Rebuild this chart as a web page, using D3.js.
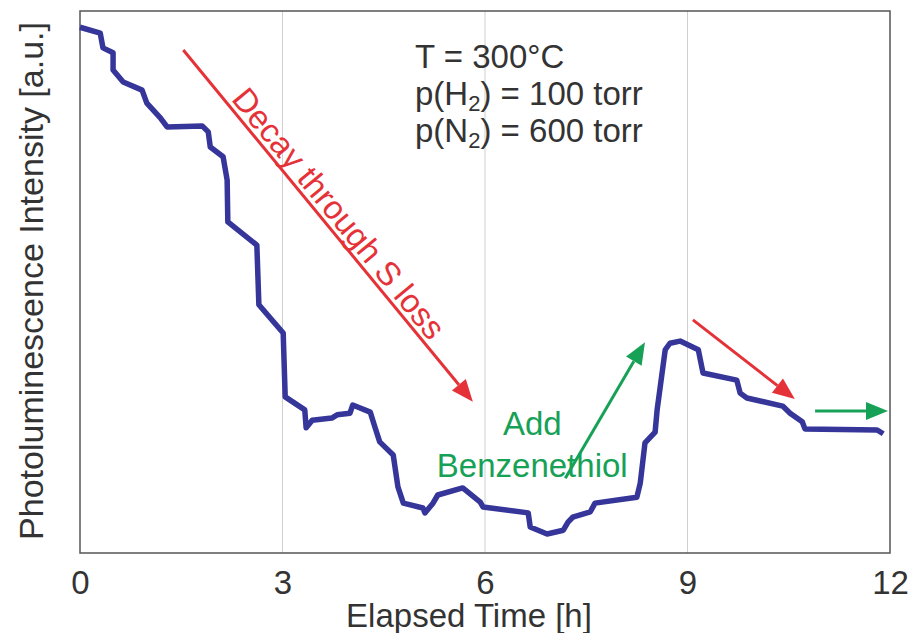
<!DOCTYPE html>
<html>
<head>
<meta charset="utf-8">
<script src="https://cdn.jsdelivr.net/npm/d3@7"></script>
<style>
  body { margin: 0; background: #fff; }
  svg { display: block; font-family: "Liberation Sans", Arial, sans-serif; }
</style>
</head>
<body>
<div id="chart"></div>
<script>
// elapsed time [h] and PL intensity [a.u., 0-100 of plot height]
var hours = [0, 0.30, 0.34, 0.49, 0.49, 0.64, 0.92, 0.99, 1.19, 1.29, 1.81, 1.90, 1.93, 2.12, 2.18, 2.19,
    2.62, 2.65, 3.01, 3.04, 3.33, 3.35, 3.44, 3.73, 3.81, 4.00, 4.04, 4.30, 4.37, 4.44, 4.64, 4.71,
    4.79, 5.08, 5.11, 5.23, 5.30, 5.67, 5.93, 5.97, 6.64, 6.67, 6.92, 7.16, 7.23, 7.30, 7.56, 7.63,
    8.25, 8.30, 8.37, 8.52, 8.55, 8.67, 8.74, 8.89, 9.16, 9.23, 9.73, 9.78, 9.88, 10.41, 10.52,
    10.70, 10.74, 11.81, 11.90];
var intensity = [97.0, 95.9, 93.2, 92.3, 89.1, 86.9, 85.4, 83.0, 80.3, 78.6, 78.8, 77.7, 74.9, 73.1, 68.8, 61.1,
    56.8, 45.8, 40.6, 28.8, 26.4, 23.1, 24.5, 24.9, 25.5, 25.8, 27.3, 26.0, 23.2, 20.5, 18.1, 12.2,
    9.2, 8.3, 7.4, 9.2, 10.7, 12.0, 9.4, 8.5, 7.4, 4.8, 3.5, 4.2, 5.7, 6.6, 7.6, 9.2,
    10.3, 12.9, 20.3, 22.3, 26.4, 37.5, 38.7, 39.1, 37.5, 33.2, 31.9, 29.5, 28.6, 27.1, 25.8,
    24.2, 22.9, 22.7, 22.0];

var xTicks = [0, 3, 6, 9, 12];
var gridHours = [3, 6, 9];

// arrows: [h0, v0, h1, v1, colour]
var arrows = [
    [1.53, 92.8, 5.82, 27.9, "#e53238"],
    [7.19, 13.8, 8.37, 38.9, "#17a157"],
    [9.08, 43.0, 10.59, 28.4, "#e53238"],
    [10.89, 26.2, 11.97, 26.2, "#17a157"]
];

function drawChart() {
    var width = 919, height = 633;
    var plotLeft = 80, plotRight = 890, plotTop = 11, plotBottom = 553;

    var x = d3.scaleLinear().domain([0, 12]).range([plotLeft, plotRight]);
    var y = d3.scaleLinear().domain([0, 100]).range([plotBottom, plotTop]);

    var svg = d3.select("#chart").append("svg")
        .attr("width", width)
        .attr("height", height);

    // grid lines
    svg.selectAll("line.grid")
        .data(gridHours)
        .enter()
        .append("line")
        .attr("class", "grid")
        .attr("x1", function (d) { return x(d); })
        .attr("x2", function (d) { return x(d); })
        .attr("y1", plotTop)
        .attr("y2", plotBottom)
        .attr("stroke", "#cfcfcf")
        .attr("stroke-width", 1);

    // frame
    svg.append("rect")
        .attr("x", plotLeft)
        .attr("y", plotTop)
        .attr("width", plotRight - plotLeft)
        .attr("height", plotBottom - plotTop)
        .attr("fill", "none")
        .attr("stroke", "#555")
        .attr("stroke-width", 1.5);

    // x axis labels
    var xAxis = svg.append("g")
        .attr("transform", "translate(0," + plotBottom + ")")
        .call(d3.axisBottom(x).tickValues(xTicks).tickSize(0).tickFormat(d3.format("d")));
    xAxis.select(".domain").remove();
    xAxis.selectAll("text")
        .attr("y", 41)
        .attr("dy", null)
        .attr("fill", "#333")
        .style("font-size", "33px")
        .style("font-family", "'Liberation Sans', Arial, sans-serif");

    svg.append("text")
        .attr("x", 469)
        .attr("y", 627)
        .attr("text-anchor", "middle")
        .attr("fill", "#333")
        .style("font-size", "33px")
        .text("Elapsed Time [h]");

    svg.append("text")
        .attr("transform", "translate(43,281) rotate(-90)")
        .attr("text-anchor", "middle")
        .attr("fill", "#333")
        .style("font-size", "34px")
        .text("Photoluminescence Intensity [a.u.]");

    // data line
    var line = d3.line()
        .x(function (d) { return x(d[0]); })
        .y(function (d) { return y(d[1]); });

    svg.append("path")
        .datum(d3.zip(hours, intensity))
        .attr("d", line)
        .attr("fill", "none")
        .attr("stroke", "#35359a")
        .attr("stroke-width", 5.5)
        .attr("stroke-linejoin", "round");

    // arrows
    arrows.forEach(function (a) {
        var x0 = x(a[0]), y0 = y(a[1]), x1 = x(a[2]), y1 = y(a[3]);
        var ang = Math.atan2(y1 - y0, x1 - x0);
        var headLen = 22, headW = 9;
        var bx = x1 - headLen * Math.cos(ang), by = y1 - headLen * Math.sin(ang);
        svg.append("line")
            .attr("x1", x0).attr("y1", y0)
            .attr("x2", bx).attr("y2", by)
            .attr("stroke", a[4])
            .attr("stroke-width", 3);
        var px = -Math.sin(ang) * headW, py = Math.cos(ang) * headW;
        svg.append("path")
            .attr("d", "M" + x1 + "," + y1 + "L" + (bx + px) + "," + (by + py) + "L" + (bx - px) + "," + (by - py) + "Z")
            .attr("fill", a[4]);
    });

    // decay label along the first arrow
    var a0 = arrows[0];
    var ax0 = x(a0[0]), ay0 = y(a0[1]), ax1 = x(a0[2]), ay1 = y(a0[3]);
    var dAng = Math.atan2(ay1 - ay0, ax1 - ax0);
    var ux = Math.cos(dAng), uy = Math.sin(dAng);
    var along = 225, off = 5;
    svg.append("text")
        .attr("transform", "translate(" + (ax0 + ux * along + uy * off) + "," + (ay0 + uy * along - ux * off) + ") rotate(" + (dAng * 180 / Math.PI) + ")")
        .attr("text-anchor", "middle")
        .attr("fill", "#e53238")
        .style("font-size", "33px")
        .text("Decay through S loss");

    // benzenethiol label
    svg.append("text")
        .attr("x", x(6.7))
        .attr("y", 435)
        .attr("text-anchor", "middle")
        .attr("fill", "#17a157")
        .style("font-size", "33px")
        .text("Add");
    svg.append("text")
        .attr("x", x(6.7))
        .attr("y", 477)
        .attr("text-anchor", "middle")
        .attr("fill", "#17a157")
        .style("font-size", "33px")
        .text("Benzenethiol");

    // conditions
    var cond = svg.append("g").attr("fill", "#333").style("font-size", "33px");
    cond.append("text").attr("x", 415).attr("y", 68).text("T = 300°C");
    var t2 = cond.append("text").attr("x", 415).attr("y", 105);
    t2.append("tspan").text("p(H");
    t2.append("tspan").attr("dy", 6).style("font-size", "22px").text("2");
    t2.append("tspan").attr("dy", -6).text(") = 100 torr");
    var t3 = cond.append("text").attr("x", 415).attr("y", 142);
    t3.append("tspan").text("p(N");
    t3.append("tspan").attr("dy", 6).style("font-size", "22px").text("2");
    t3.append("tspan").attr("dy", -6).text(") = 600 torr");
}

window.addEventListener('load', function () {
    drawChart();
});
</script>
</body>
</html>
